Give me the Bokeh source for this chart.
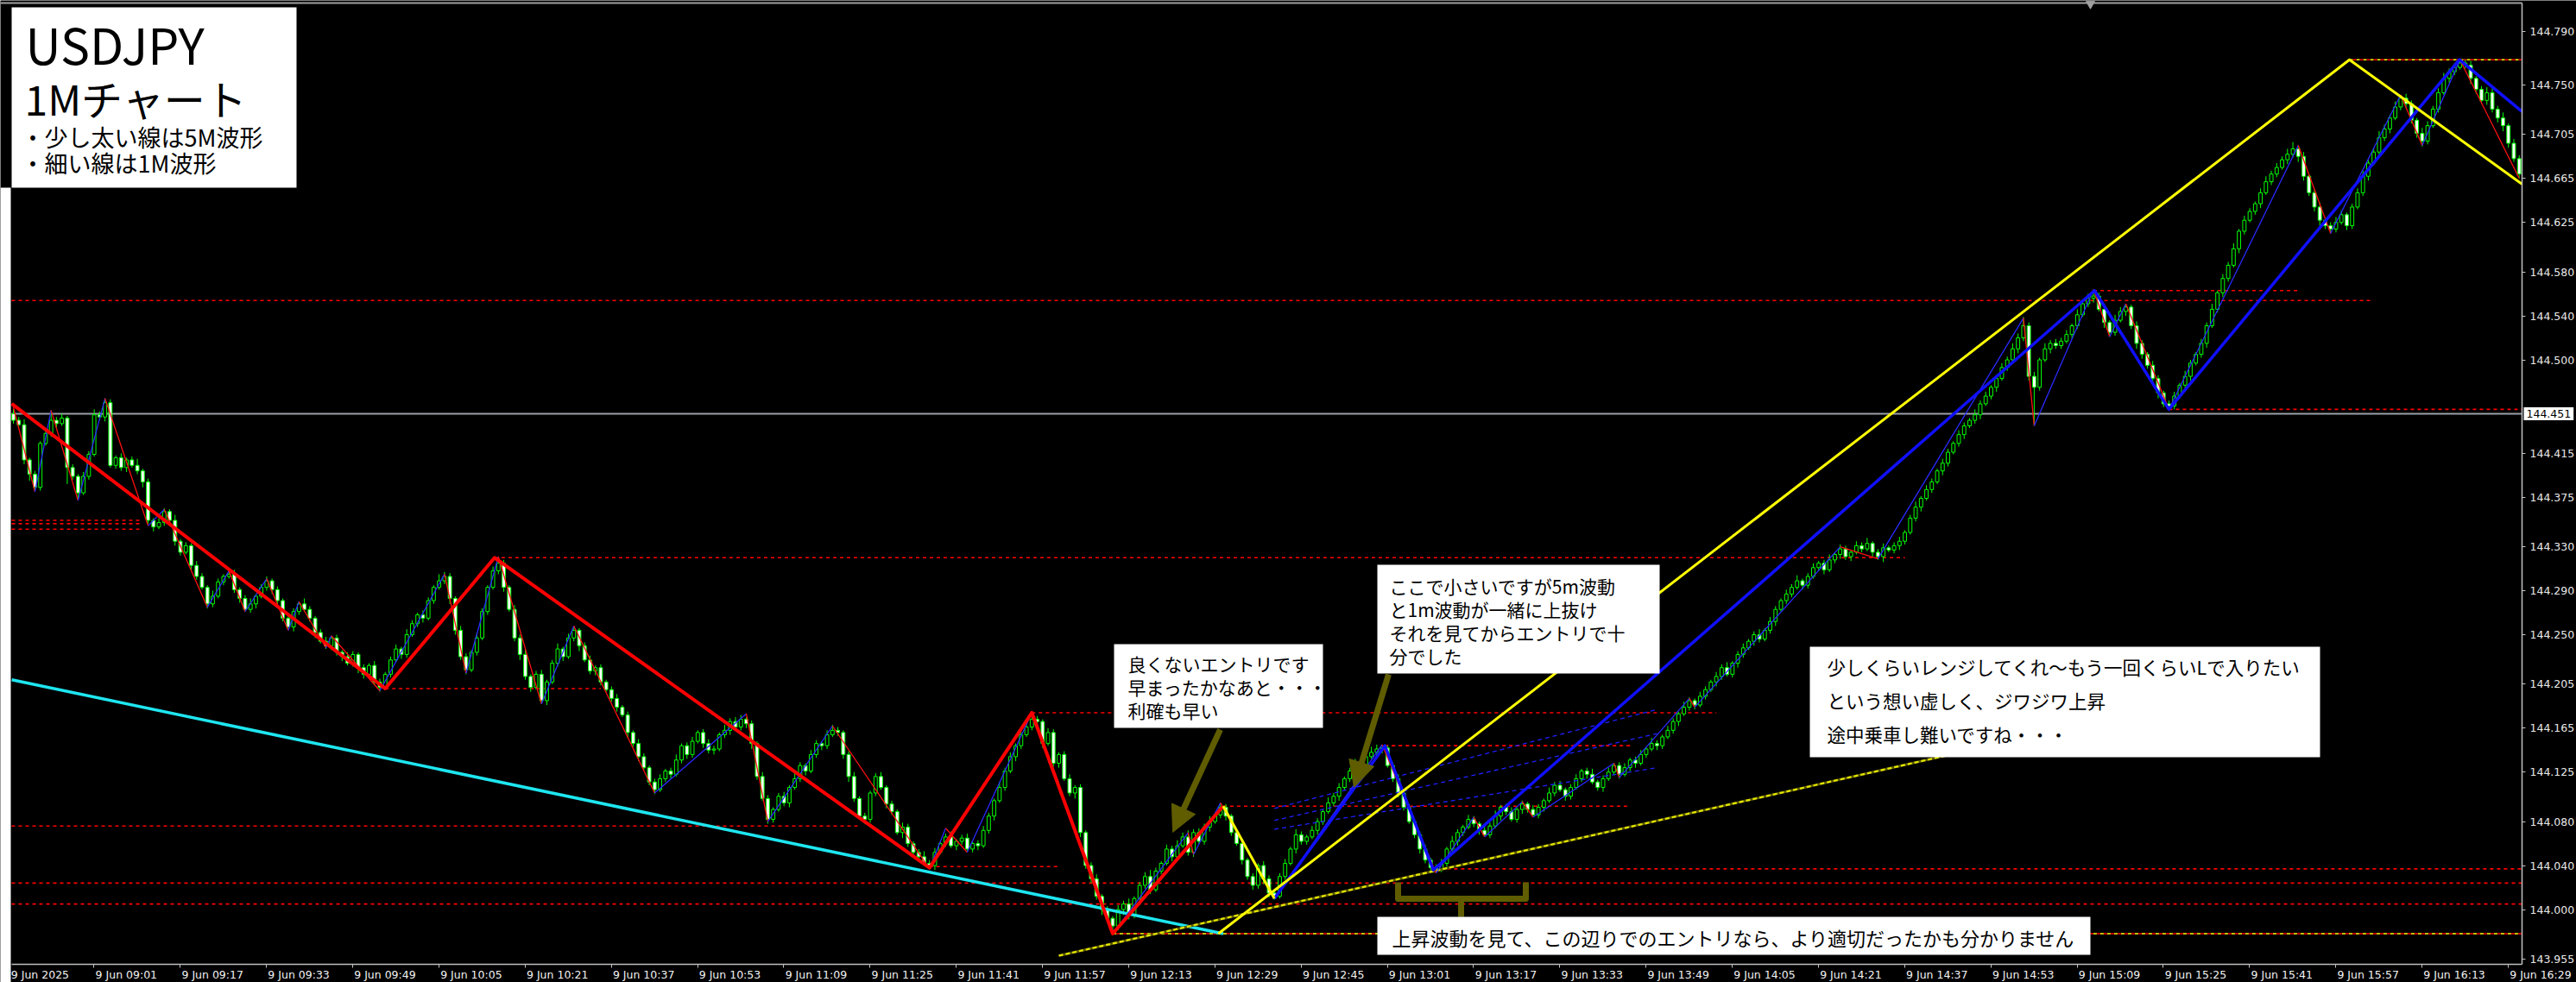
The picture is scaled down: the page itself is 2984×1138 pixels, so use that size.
from bokeh.plotting import figure
from bokeh.models import (Range1d, FixedTicker, Label, BoxAnnotation, Arrow, NormalHead, LinearAxis,
                          ColumnDataSource, CustomJSTickFormatter)
from bokeh.embed import file_html
from bokeh.resources import INLINE

# ---------------- data (prices in thousandths above 144.000) ----------------
BASE = 144.0
first_open = 451
closes = [
    445, 441, 409, 396, 384, 424, 433, 445, 442, 447,
    402, 394, 379, 394, 414, 450, 448, 461, 404, 411,
    402, 409, 404, 399, 389, 354, 348, 352, 362, 354,
    335, 325, 331, 313, 303, 293, 278, 285, 298, 303,
    305, 291, 283, 273, 278, 285, 293, 299, 291, 281,
    265, 257, 271, 278, 273, 265, 252, 244, 240, 247,
    234, 230, 224, 232, 220, 214, 222, 207, 202, 214,
    227, 237, 232, 250, 260, 268, 265, 281, 293, 299,
    303, 283, 254, 230, 218, 234, 247, 271, 293, 308,
    315, 293, 273, 247, 232, 212, 202, 214, 190, 207,
    224, 237, 230, 247, 254, 240, 227, 217, 220, 207,
    200, 192, 184, 177, 161, 151, 139, 129, 116, 109,
    119, 126, 123, 136, 149, 141, 153, 161, 151, 145,
    146, 159, 163, 171, 166, 173, 169, 151, 121, 101,
    82, 91, 103, 97, 111, 119, 131, 126, 141, 151,
    149, 159, 163, 161, 141, 121, 101, 85, 82, 106,
    121, 111, 96, 89, 70, 75, 60, 52, 48, 42,
    40, 52, 60, 66, 58, 62, 65, 55, 60, 58,
    72, 85, 99, 111, 126, 139, 149, 159, 166, 173,
    171, 151, 161, 133, 141, 119, 106, 111, 70, 40,
    28, 12, 0, -8, -15, 0, 5, -5, 10, 22,
    30, 18, 35, 42, 55, 48, 58, 66, 52, 70,
    62, 75, 80, 86, 93, 85, 70, 60, 45, 30,
    22, 40, 28, 15, 12, 30, 42, 55, 68, 62,
    66, 72, 80, 89, 97, 103, 111, 119, 126, 133,
    129, 139, 143, 146, 147, 131, 119, 106, 93, 80,
    68, 55, 45, 38, 36, 42, 55, 62, 70, 75,
    82, 78, 72, 68, 76, 85, 93, 89, 82, 91,
    96, 91, 86, 93, 99, 106, 113, 109, 103, 111,
    119, 126, 123, 116, 111, 119, 125, 131, 123, 129,
    136, 133, 141, 146, 151, 149, 157, 163, 171, 178,
    184, 190, 186, 194, 200, 207, 212, 220, 214, 224,
    232, 238, 244, 250, 246, 254, 262, 273, 281, 287,
    293, 299, 295, 303, 311, 315, 309, 318, 323, 328,
    321, 325, 331, 328, 333, 325, 321, 329, 327, 331,
    335, 343, 356, 366, 374, 382, 389, 399, 406, 416,
    424, 432, 440, 445, 450, 460, 467, 475, 483, 493,
    500, 510, 520, 531, 485, 475, 500, 510, 515, 513,
    517, 523, 531, 541, 551, 556, 558, 546, 534, 525,
    536, 544, 548, 531, 515, 505, 495, 483, 470, 460,
    458, 467, 477, 485, 497, 505, 515, 531, 546, 561,
    574, 586, 601, 617, 627, 635, 642, 652, 662, 669,
    675, 682, 687, 692, 685, 667, 652, 639, 627, 622,
    619, 625, 632, 622, 639, 652, 667, 679, 689, 702,
    710, 720, 730, 738, 733, 718, 706, 699, 713, 728,
    743, 756, 762, 766, 770, 768, 756, 746, 736, 743,
    728, 720, 713, 697, 683, 669,
]
wick_up = [
    4, 3, 5, 2, 3, 2, 4, 9, 3, 4, 2, 3, 2, 4, 3, 5, 3, 4, 3, 2,
    4, 2, 3, 6, 2, 3, 2, 4, 3, 2, 5, 2, 3, 2, 4, 3, 2, 5, 3, 2,
    3, 4, 2, 3, 5, 2, 3, 4, 2, 3, 2, 4, 3, 2, 5, 3, 2, 3, 4, 2,
    3, 2, 4, 3, 2, 3, 2, 4, 3, 2, 3, 4, 2, 5, 3, 2, 4, 3, 2, 6,
    4, 3, 2, 4, 3, 2, 5, 3, 2, 4, 4, 3, 2, 4, 3, 5, 2, 3, 4, 2,
    3, 5, 2, 4, 3, 2, 3, 4, 2, 3, 2, 3, 4, 2, 3, 2, 4, 3, 2, 3,
    4, 2, 3, 5, 2, 3, 4, 2, 3, 4, 3, 2, 5, 3, 4, 4, 2, 3, 2, 4,
    3, 2, 3, 4, 2, 5, 3, 2, 4, 3, 2, 4, 5, 3, 2, 3, 4, 2, 3, 2,
    3, 4, 2, 3, 2, 4, 3, 2, 3, 5, 3, 4, 2, 3, 5, 2, 3, 4, 2, 3,
    4, 3, 2, 5, 3, 4, 2, 3, 4, 5, 3, 2, 4, 3, 2, 3, 4, 2, 3, 2,
    3, 4, 2, 3, 2, 4, 3, 5, 2, 3, 4, 6, 3, 2, 4, 3, 5, 4, 6, 3,
    4, 3, 5, 2, 4, 3, 2, 3, 4, 2, 3, 2, 4, 3, 2, 3, 4, 2, 5, 3,
    2, 4, 3, 2, 5, 3, 4, 2, 3, 4, 3, 2, 5, 4, 3, 2, 3, 4, 2, 3,
    2, 3, 4, 2, 3, 4, 2, 5, 3, 2, 4, 3, 2, 4, 3, 5, 2, 3, 4, 2,
    3, 2, 4, 3, 2, 5, 3, 4, 2, 3, 4, 2, 3, 5, 2, 3, 4, 2, 3, 4,
    2, 3, 4, 2, 5, 3, 2, 4, 3, 2, 5, 3, 2, 4, 3, 2, 4, 3, 5, 2,
    3, 4, 2, 3, 5, 2, 4, 3, 2, 4, 3, 5, 2, 3, 4, 2, 3, 5, 2, 4,
    3, 2, 4, 3, 5, 2, 3, 4, 2, 3, 4, 2, 3, 5, 2, 4, 3, 2, 4, 3,
    2, 4, 3, 2, 5, 3, 4, 2, 3, 4, 3, 5, 4, 8, 3, 4, 2, 5, 3, 4,
    3, 4, 2, 5, 3, 4, 6, 3, 4, 2, 5, 4, 3, 2, 4, 3, 2, 4, 3, 2,
    3, 4, 2, 5, 3, 2, 4, 3, 5, 2, 4, 3, 5, 2, 4, 3, 2, 4, 5, 3,
    4, 3, 5, 6, 3, 4, 2, 3, 4, 2, 3, 5, 4, 2, 3, 4, 5, 3, 4, 6,
    4, 3, 5, 2, 4, 3, 2, 5, 4, 3, 4, 5, 3, 4, 3, 3, 4, 2, 3, 5,
    4, 3, 5, 2, 4, 3,
]
wick_dn = [
    3, 2, 4, 6, 4, 3, 2, 3, 4, 2, 15, 3, 6, 2, 3, 2, 3, 4, 2, 3,
    3, 4, 2, 3, 5, 3, 4, 2, 3, 2, 4, 3, 2, 5, 3, 2, 4, 3, 2, 3,
    2, 3, 4, 2, 3, 4, 2, 3, 4, 5, 3, 2, 4, 3, 2, 3, 5, 2, 3, 4,
    3, 4, 2, 3, 5, 4, 2, 3, 4, 2, 3, 2, 4, 3, 2, 3, 4, 2, 3, 2,
    3, 5, 4, 3, 4, 2, 3, 2, 3, 2, 3, 4, 2, 3, 5, 3, 4, 2, 3, 4,
    2, 3, 4, 2, 3, 5, 2, 3, 4, 3, 2, 3, 4, 2, 5, 3, 4, 2, 3, 4,
    2, 3, 4, 2, 3, 4, 3, 2, 4, 3, 4, 2, 3, 4, 2, 3, 4, 5, 3, 2,
    4, 3, 2, 3, 4, 2, 3, 4, 2, 3, 4, 3, 2, 3, 4, 5, 3, 2, 4, 3,
    3, 2, 4, 3, 2, 5, 3, 4, 3, 2, 3, 4, 2, 3, 2, 4, 3, 2, 3, 4,
    2, 3, 4, 2, 3, 2, 4, 3, 2, 3, 3, 4, 2, 3, 4, 2, 3, 5, 4, 3,
    4, 3, 5, 4, 7, 4, 5, 4, 3, 2, 3, 4, 2, 3, 2, 4, 3, 2, 3, 4,
    2, 3, 4, 2, 3, 4, 3, 2, 4, 3, 4, 3, 5, 4, 3, 2, 3, 2, 4, 3,
    3, 2, 4, 3, 2, 3, 4, 2, 3, 2, 4, 3, 2, 3, 4, 2, 3, 4, 3, 2,
    3, 4, 3, 4, 3, 2, 3, 2, 4, 3, 2, 3, 4, 2, 3, 2, 4, 3, 2, 3,
    4, 3, 2, 3, 4, 2, 3, 2, 4, 3, 2, 3, 4, 2, 3, 4, 2, 3, 4, 2,
    3, 4, 2, 3, 2, 4, 3, 2, 3, 4, 2, 3, 4, 2, 3, 2, 4, 3, 2, 3,
    4, 3, 2, 4, 3, 2, 3, 4, 2, 3, 3, 2, 4, 3, 2, 3, 4, 2, 3, 4,
    3, 4, 2, 3, 2, 4, 3, 5, 2, 3, 4, 3, 2, 3, 4, 2, 3, 2, 4, 3,
    2, 3, 4, 2, 3, 4, 2, 3, 4, 2, 3, 2, 4, 3, 4, 35, 3, 2, 4, 3,
    3, 2, 4, 3, 2, 3, 4, 2, 5, 4, 3, 2, 4, 3, 5, 4, 3, 4, 5, 3,
    0, 3, 2, 3, 4, 2, 3, 4, 2, 3, 4, 3, 2, 4, 3, 2, 3, 4, 2, 3,
    3, 2, 4, 3, 5, 4, 3, 4, 5, 3, 4, 3, 2, 4, 3, 2, 3, 4, 2, 3,
    3, 4, 2, 3, 4, 3, 4, 5, 3, 2, 3, 2, 4, 3, 2, 3, 5, 4, 3, 4,
    3, 4, 5, 4, 3, 4,
]
time_labels = ["9 Jun 2025", "9 Jun 09:01", "9 Jun 09:17", "9 Jun 09:33", "9 Jun 09:49",
               "9 Jun 10:05", "9 Jun 10:21", "9 Jun 10:37", "9 Jun 10:53", "9 Jun 11:09",
               "9 Jun 11:25", "9 Jun 11:41", "9 Jun 11:57", "9 Jun 12:13", "9 Jun 12:29",
               "9 Jun 12:45", "9 Jun 13:01", "9 Jun 13:17", "9 Jun 13:33", "9 Jun 13:49",
               "9 Jun 14:05", "9 Jun 14:21", "9 Jun 14:37", "9 Jun 14:53", "9 Jun 15:09",
               "9 Jun 15:25", "9 Jun 15:41", "9 Jun 15:57", "9 Jun 16:13", "9 Jun 16:29"]
label_every = 16
price_tick_labels = ["144.790", "144.750", "144.705", "144.665", "144.625", "144.580",
                     "144.540", "144.500", "144.415", "144.375", "144.330", "144.290",
                     "144.250", "144.205", "144.165", "144.125", "144.080", "144.040",
                     "144.000", "143.955"]
current_price = 451

# 1M zigzag (thin) pivots
zz1_bars = [0, 4, 7, 12, 17, 25, 28, 36, 40, 43, 47, 51, 53, 58, 59, 68, 80, 84, 90, 98,
            104, 119, 136, 140, 152, 170, 173, 177, 189, 204, 218, 219, 224, 234, 254,
            264, 271, 273, 280, 282, 297, 298, 311, 312, 339, 346, 373, 375, 386, 389,
            392, 400, 424, 430, 443, 447, 454, 465]
zz1_vals = [457, 380, 454, 372, 465, 349, 364, 275, 308, 271, 301, 254, 280, 238, 249, 199,
            305, 215, 321, 187, 258, 106, 178, 80, 167, 37, 74, 52, 179, -22, 70, 50, 97,
            10, 150, 33, 84, 66, 98, 84, 133, 120, 192, 184, 330, 319, 538, 440, 564, 521,
            551, 455, 695, 615, 741, 695, 773, 665]
# thick wave lines
red_bars = [-0.3, 69.0, 89.3, 170.0, 189.0, 204.0, 224.5]
red_vals = [460, 201, 320, 38, 179, -22, 94]
yel_v_bars = [224.5, 234.0]
yel_v_vals = [94, 10]
yel_bars = [223.6, 433.5, 465.5]
yel_vals = [-22, 773, 660]
blue_bars = [234.0, 254.5, 263.5, 386.2, 400.0, 453.9, 465.5]
blue_vals = [10, 149, 36, 563, 455, 773, 726]
cyan_bars = [-0.3, 224.5]
cyan_vals = [209, -22]
trend_bars = [194.0, 374.0]
trend_vals = [-42, 157]
chan_bars = [234, 305]
chan_vals = [[92, 182], [81, 160], [73, 129]]
# horizontal levels: (price, start bar, end bar); None = chart edge / price axis
red_levels = [(554, None, 438), (563, 386, 424), (455, 400, None), (354, None, 24),
              (351, None, 24), (346, None, 24), (320, 89.3, 351), (201, 69, 109),
              (179, 189, 316), (149, 254.5, 300), (94, 224.5, 300), (76, None, 156.7),
              (39, 170, 194), (37, 263.5, None), (24, None, None), (5, None, None)]
yr_levels = [(773, 433.5, None), (-22, 204, None)]


def P(v):
    return BASE + v / 1000.0


n = len(closes)
assert len(wick_up) == n and len(wick_dn) == n
opens = [first_open] + closes[:-1]
bars = list(range(n))
tops = [P(max(o, c)) for o, c in zip(opens, closes)]
bots = [P(min(o, c)) for o, c in zip(opens, closes)]
highs = [P(max(o, c) + u) for o, c, u in zip(opens, closes, wick_up)]
lows = [P(min(o, c) - d) for o, c, d in zip(opens, closes, wick_dn)]
fills = ["#000000" if c > o else "#ffffff" for o, c in zip(opens, closes)]

# ---------------- geometry (canvas pixels -> data) ----------------
W, H = 2984, 1138
PXB = 6.2424            # px per bar
PXP = 1274.0            # px per 1.0 of price
X0 = -15 / PXB          # bar 0 sits at x=15
X1 = X0 + W / PXB
Y1 = 144.750 + 98 / PXP  # 144.750 at y=98
Y0 = Y1 - H / PXP


def bx(xp):
    return X0 + xp / PXB


def py(yp):
    return Y1 - yp / PXP


XA = bx(2921)   # price axis position
YA = py(1117)   # time axis position
XL = bx(13)     # left edge of the chart window

p = figure(frame_width=W, frame_height=H,
           x_range=Range1d(X0, X1), y_range=Range1d(Y0, Y1),
           output_backend="svg", toolbar_location=None, y_axis_location="right",
           min_border_left=0, min_border_top=0, min_border_bottom=0, min_border_right=0,
           background_fill_color="#000000", border_fill_color="#000000",
           outline_line_color=None)
p.grid.visible = False

# price axis: MT4 keeps the top label inside the window, so it sits a little higher
tick_prices = [float(s) for s in price_tick_labels]
tick_prices[0] = py(36)
ya = p.yaxis[0]
ya.fixed_location = XA
ya.bounds = (YA, py(3))
ya.ticker = FixedTicker(ticks=tick_prices)
ya.formatter = CustomJSTickFormatter(args=dict(top=tick_prices[0], lab=price_tick_labels[0]),
                                     code="return tick >= top - 1e-6 ? lab : tick.toFixed(3)")
ya.major_label_text_color = "#e8e8e8"
ya.major_label_text_font = "DejaVu Sans"
ya.major_label_text_font_size = "12.5px"
ya.major_tick_out = 4
ya.major_tick_in = 0
ya.minor_tick_out = 0
ya.minor_tick_in = 0
ya.major_label_standoff = 5
ya.axis_line_color = "#c0c0c0"
ya.axis_line_width = 1.5
ya.major_tick_line_color = "#c0c0c0"

tick_pos = [label_every * k - 1.04 for k in range(len(time_labels))]
xa = p.xaxis[0]
xa.fixed_location = YA
xa.bounds = (XL, XA)
xa.ticker = FixedTicker(ticks=tick_pos)
xa.formatter = CustomJSTickFormatter(code="return ''")
xa.major_tick_out = 4
xa.major_tick_in = 0
xa.minor_tick_out = 0
xa.minor_tick_in = 0
xa.major_label_standoff = 0
xa.axis_line_color = "#c0c0c0"
xa.axis_line_width = 1.5
xa.major_tick_line_color = "#c0c0c0"

label_shift = 6.0  # labels start at their tick mark (MT4 style)
xl = LinearAxis(fixed_location=YA, ticker=FixedTicker(ticks=[t + label_shift for t in tick_pos]),
                formatter=CustomJSTickFormatter(args=dict(labels=time_labels),
                                                code="return labels[index]"),
                axis_line_color=None, major_tick_line_color=None, minor_tick_line_color=None,
                major_tick_out=0, major_tick_in=0, minor_tick_out=0, minor_tick_in=0,
                major_label_standoff=4, major_label_text_color="#f2f2f2",
                major_label_text_font="DejaVu Sans", major_label_text_font_size="12.5px")
p.add_layout(xl, "below")

# window frame details: top border, chart-shift marker, white strip on the far left
p.line([X0, XA], [py(3)] * 2, line_color="#a0a0a0", line_width=2)
p.scatter([bx(2421)], [py(4)], marker="inverted_triangle", size=10, color="#a0a0a0")
p.add_layout(BoxAnnotation(left=X0, right=bx(12), top=py(217), bottom=Y0,
                           fill_color="#ffffff", fill_alpha=1.0, line_color=None))


# ---------------- level lines ----------------
def ends(b0, b1):
    return (XL if b0 is None else b0), (XA if b1 is None else b1)


for v, b0, b1 in red_levels:
    a, b = ends(b0, b1)
    p.line([a, b], [P(v), P(v)], line_color="#ff0000", line_width=1.6, line_dash="4 4")
for v, b0, b1 in yr_levels:
    a, b = ends(b0, b1)
    p.line([a, b], [P(v), P(v)], line_color="#ffff00", line_width=1.6, line_dash="4 4")
    p.line([a, b], [P(v), P(v)], line_color="#ff0000", line_width=1.6, line_dash="4 4",
           line_dash_offset=4)
p.line([XL, XA], [P(current_price)] * 2, line_color="#9aa0a8", line_width=2)

# ---------------- candles ----------------
src = ColumnDataSource(dict(x=bars, top=tops, bottom=bots, high=highs, low=lows, fill=fills))
p.segment(x0="x", y0="low", x1="x", y1="high", source=src, line_color="#00ff00", line_width=1)
p.vbar(x="x", top="top", bottom="bottom", width=0.62, source=src, fill_color="fill",
       line_color="#00ff00", line_width=1)

# ---------------- trend / channel lines ----------------
p.line(cyan_bars, [P(v) for v in cyan_vals], line_color="#1ee6f0", line_width=3.5)
p.line(trend_bars, [P(v) for v in trend_vals], line_color="#5a5a00", line_width=3)
p.line(trend_bars, [P(v) for v in trend_vals], line_color="#e6e600", line_width=2.2, line_dash="5 3")
for a, b in chan_vals:
    p.line(chan_bars, [P(a), P(b)], line_color="#2020ff", line_width=1.3, line_dash="5 4")

# thin 1M zigzag
for i in range(len(zz1_bars) - 1):
    up = zz1_vals[i + 1] > zz1_vals[i]
    p.line(zz1_bars[i:i + 2], [P(zz1_vals[i]), P(zz1_vals[i + 1])],
           line_color="#2a2aff" if up else "#ff1010", line_width=1.3)

# thick 5M lines
p.line(red_bars, [P(v) for v in red_vals], line_color="#ff0000", line_width=4, line_join="round")
p.line(blue_bars, [P(v) for v in blue_vals], line_color="#1010ff", line_width=3.5, line_join="round")
p.line(yel_v_bars, [P(v) for v in yel_v_vals], line_color="#ffff00", line_width=3)
p.line(yel_bars, [P(v) for v in yel_vals], line_color="#ffff00", line_width=3, line_join="round")

# ---------------- annotations ----------------
OLIVE = "#5f5d00"
JP = "Noto Sans CJK JP"


def box(x0, y0, x1, y1):
    p.add_layout(BoxAnnotation(left=bx(x0), right=bx(x1), top=py(y0), bottom=py(y1),
                               fill_color="#ffffff", fill_alpha=1.0, line_color=None))


def txt(x, y, s, size):
    # y is the wanted baseline; the renderer anchors a little below it
    p.add_layout(Label(x=bx(x), y=py(y - 0.33 * size), text=s, text_font=JP,
                       text_font_size="%gpx" % size, text_color="#000000",
                       text_baseline="alphabetic", text_align="left"))


box(13, 8, 343, 217)
txt(29, 68, "USDJPY", 57)
txt(28, 128, "1Mチャート", 48)
txt(24, 167, "・少し太い線は5M波形", 27)
txt(24, 197, "・細い線は1M波形", 27)

box(1290, 746, 1532, 843)
for i, s in enumerate(["良くないエントリです", "早まったかなあと・・・", "利確も早い"]):
    txt(1306, 775 + 27 * i, s, 21)

box(1595, 654, 1922, 780)
for i, s in enumerate(["ここで小さいですが5m波動", "と1m波動が一緒に上抜け",
                       "それを見てからエントリで十", "分でした"]):
    txt(1609, 685 + 27.3 * i, s, 21)

box(2096, 749, 2687, 877)
for i, s in enumerate(["少しくらいレンジしてくれ～もう一回くらいLで入りたい",
                       "という想い虚しく、ジワジワ上昇", "途中乗車し難いですね・・・"]):
    txt(2116, 779 + 39 * i, s, 21.5)

box(1595, 1062, 2421, 1106)
txt(1612, 1093, "上昇波動を見て、この辺りでのエントリなら、より適切だったかも分かりません", 22)

# olive pointers
for (xs, ys, xe, ye) in [(1413, 845, 1358, 964), (1608, 781, 1568, 912)]:
    p.add_layout(Arrow(x_start=bx(xs), y_start=py(ys), x_end=bx(xe), y_end=py(ye),
                       line_color=OLIVE, line_width=7,
                       end=NormalHead(size=30, fill_color=OLIVE, line_color=OLIVE)))
p.line([bx(1619), bx(1619), bx(1767), bx(1767)], [py(1022), py(1041), py(1041), py(1022)],
       line_color=OLIVE, line_width=7, line_join="round")
p.line([bx(1692), bx(1692)], [py(1041), py(1062)], line_color=OLIVE, line_width=7)

# current price tag on the axis
p.add_layout(Label(x=XA, y=P(current_price), x_offset=2, text="%.3f" % P(current_price),
                   text_font="DejaVu Sans", text_font_size="12.5px", text_color="#000000",
                   text_baseline="middle", text_align="left", background_fill_color="#ffffff",
                   padding=3))

open("out.html", "w").write(file_html(p, INLINE))
